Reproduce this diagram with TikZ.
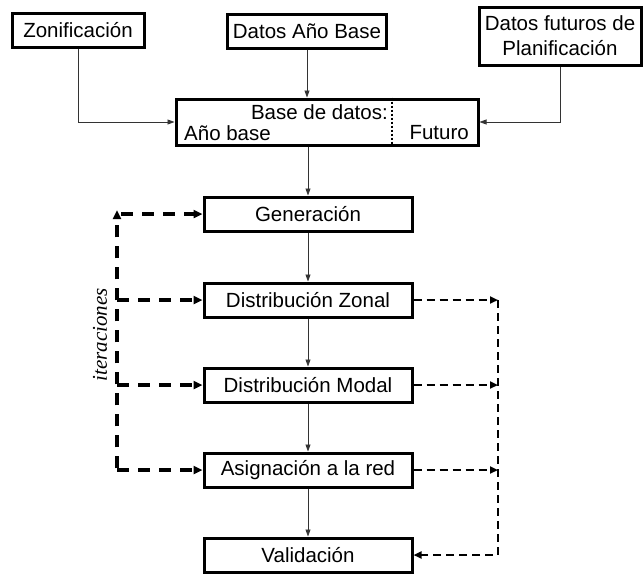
\documentclass[tikz,border=0pt]{standalone}
\usepackage{fontspec}
\setmainfont{Liberation Sans}
\newfontfamily\serifit{Liberation Serif}
\usetikzlibrary{arrows.meta}
\tikzset{
	caja/.style={draw, line width=3pt, minimum height=34pt, inner sep=2pt,
		font=\fontsize{20.5}{25}\selectfont},
	texto/.style={inner sep=0pt, font=\fontsize{20.5}{25}\selectfont},
	flecha/.style={-{Triangle[length=7pt,width=5pt]}, line width=0.8pt, black!80},
	iter/.style={-{Triangle[length=9pt,width=8pt]}, line width=3.4pt,
		dash pattern=on 12pt off 9pt},
	retro/.style={-{Triangle[length=8pt,width=7pt]}, line width=2.4pt,
		dash pattern=on 8pt off 5pt}
}
\begin{document}
\begin{tikzpicture}[x=1pt,y=-1pt]
			\useasboundingbox (0,0) rectangle (644,573);
			% entradas
			\node[caja, minimum width=132pt] (zon) at (78,30) {Zonificación};
			\node[caja, minimum width=159pt] (dab) at (307,31) {Datos Año Base};
			\node[caja, minimum width=162pt, minimum height=58pt, align=center]
				(dfp) at (560,36) {Datos futuros de\\Planificación};
			% base de datos
			\node[caja, minimum width=302pt, minimum height=46pt] (bd) at (327,122) {};
			\coordinate (div) at (392,122);
			\draw[dotted, line width=2pt] (div |- bd.north) -- (div |- bd.south);
			\node[texto, anchor=east] (bdtit) at (388,112) {Base de datos:};
			\node[texto, anchor=west] (bdab) at (184,133) {Año base};
			\node[texto, anchor=east] (bdfut) at (469,133) {Futuro};
			% etapas
			\foreach \nom/\y/\txt in {gen/214/Generación, dz/300/Distribución Zonal,
					dm/385/Distribución Modal, ar/470/Asignación a la red, val/555/Validación}
				\node[caja, minimum width=208pt] (\nom) at (308,\y) {\txt};
			% conexiones
			\draw[flecha] (zon.south) |- (bd.west);
			\draw[flecha] (dfp.south) |- (bd.east);
			\draw[flecha] (dab.south) -- (dab.south |- bd.north);
			\draw[flecha] (gen.north |- bd.south) -- (gen.north);
			\foreach \a/\b in {gen/dz, dz/dm, dm/ar, ar/val}
				\draw[flecha] (\a) -- (\b);
			% iteraciones
			\coordinate (izq) at (117,0);
			\coordinate (der) at (498,0);
			\draw[iter] ([yshift=1.7pt]izq |- ar) -- ([yshift=4pt]izq |- gen);
			\draw[iter] ([xshift=4pt]izq |- gen) -- (gen.west);
			\foreach \n in {dz, dm, ar}
				\draw[iter] (izq |- \n) -- (\n.west);
			\foreach \n in {dz, dm, ar}
				\draw[retro] (\n.east) -- (der |- \n);
			\draw[retro] (der |- dz) -- (der |- val) -- (val.east);
			\node[rotate=90, inner sep=0pt, font=\serifit\itshape\fontsize{21}{24}\selectfont]
				(itl) at (100,335) {iteraciones};
		\end{tikzpicture}
\end{document}
